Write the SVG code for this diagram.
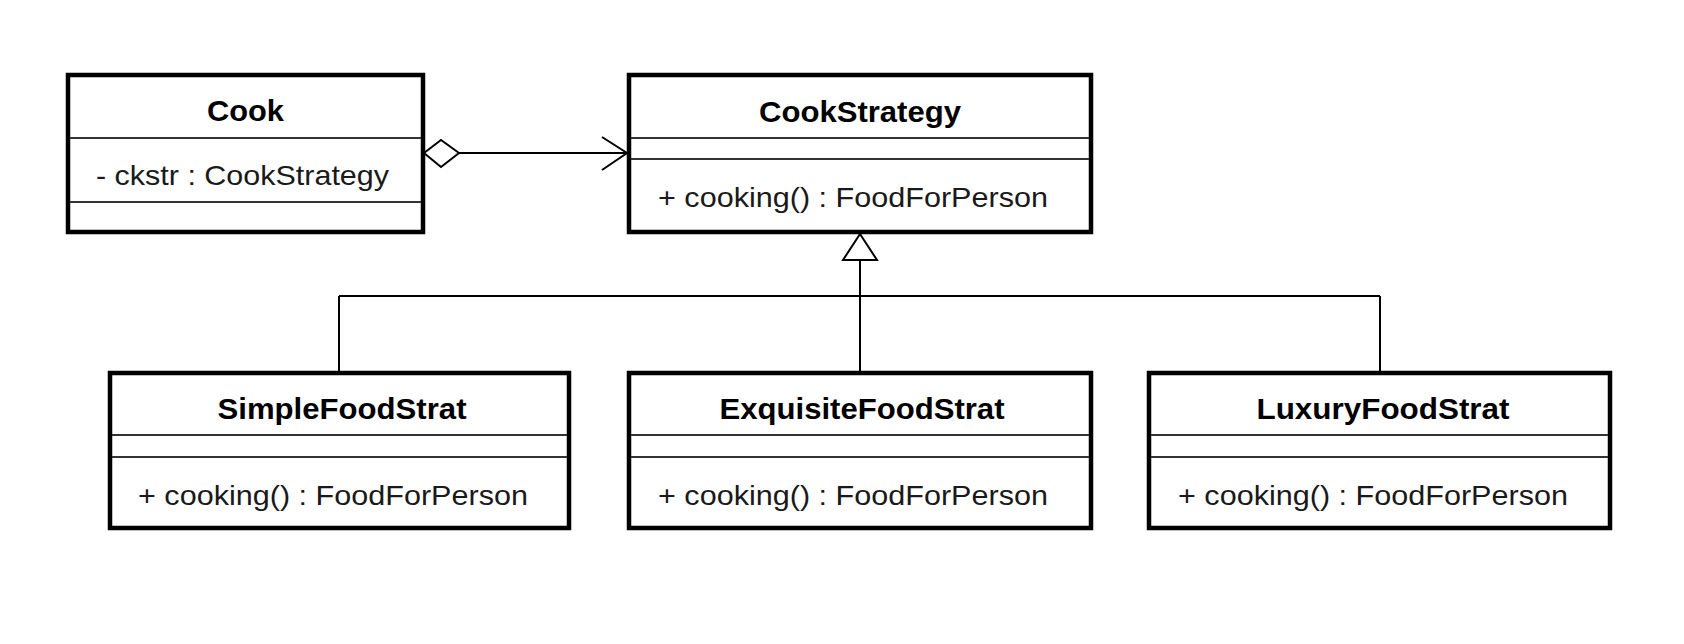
<svg xmlns="http://www.w3.org/2000/svg" width="1684" height="644" viewBox="0 0 1684 644">
<style>
.box{fill:#fff;stroke:#000;stroke-width:4.5}
.div{stroke:#333;stroke-width:2}
.title{font-family:"Liberation Sans",Arial,sans-serif;font-weight:bold;font-size:30px;fill:#000;text-anchor:middle}
.mem{font-family:"Liberation Sans",Arial,sans-serif;font-size:28px;fill:#1a1a1a}
.conn{stroke:#000;stroke-width:2;fill:none}
</style>
<rect width="1684" height="644" fill="#fff"/>
<g id="Cook">
<rect class="box" x="68" y="75" width="355" height="157"/>
<line class="div" x1="70" y1="138" x2="421" y2="138"/>
<line class="div" x1="70" y1="202" x2="421" y2="202"/>
<text class="title" x="245.5" y="121" textLength="77" lengthAdjust="spacingAndGlyphs">Cook</text>
<text class="mem" x="96" y="185" textLength="293" lengthAdjust="spacingAndGlyphs">- ckstr : CookStrategy</text>
</g>
<g id="CookStrategy">
<rect class="box" x="629" y="75" width="462" height="157"/>
<line class="div" x1="631" y1="138" x2="1089" y2="138"/>
<line class="div" x1="631" y1="159" x2="1089" y2="159"/>
<text class="title" x="860" y="122" textLength="202" lengthAdjust="spacingAndGlyphs">CookStrategy</text>
<text class="mem" x="658" y="207" textLength="390" lengthAdjust="spacingAndGlyphs">+ cooking() : FoodForPerson</text>
</g>
<g id="SimpleFoodStrat">
<rect class="box" x="110" y="373" width="459" height="155"/>
<line class="div" x1="112" y1="435" x2="567" y2="435"/>
<line class="div" x1="112" y1="457" x2="567" y2="457"/>
<text class="title" x="342" y="419" textLength="249" lengthAdjust="spacingAndGlyphs">SimpleFoodStrat</text>
<text class="mem" x="138" y="505" textLength="390" lengthAdjust="spacingAndGlyphs">+ cooking() : FoodForPerson</text>
</g>
<g id="ExquisiteFoodStrat">
<rect class="box" x="629" y="373" width="462" height="155"/>
<line class="div" x1="631" y1="435" x2="1089" y2="435"/>
<line class="div" x1="631" y1="457" x2="1089" y2="457"/>
<text class="title" x="862" y="419" textLength="285" lengthAdjust="spacingAndGlyphs">ExquisiteFoodStrat</text>
<text class="mem" x="658" y="505" textLength="390" lengthAdjust="spacingAndGlyphs">+ cooking() : FoodForPerson</text>
</g>
<g id="LuxuryFoodStrat">
<rect class="box" x="1149" y="373" width="461" height="155"/>
<line class="div" x1="1151" y1="435" x2="1608" y2="435"/>
<line class="div" x1="1151" y1="457" x2="1608" y2="457"/>
<text class="title" x="1383" y="419" textLength="253" lengthAdjust="spacingAndGlyphs">LuxuryFoodStrat</text>
<text class="mem" x="1178" y="505" textLength="390" lengthAdjust="spacingAndGlyphs">+ cooking() : FoodForPerson</text>
</g>
<g id="connectors">
<polygon class="conn" fill="#fff" points="424,153 441,140 459,153 441,167" style="fill:#fff"/>
<line class="conn" x1="459" y1="153" x2="627" y2="153"/>
<polyline class="conn" points="602,137 627,153 602,170"/>
<line class="conn" x1="339" y1="296" x2="1380" y2="296"/>
<line class="conn" x1="339" y1="296" x2="339" y2="373"/>
<line class="conn" x1="1380" y1="296" x2="1380" y2="373"/>
<line class="conn" x1="860" y1="260" x2="860" y2="373"/>
<polygon class="conn" points="860,234 843,260 877,260" style="fill:#fff"/>
</g>
</svg>
